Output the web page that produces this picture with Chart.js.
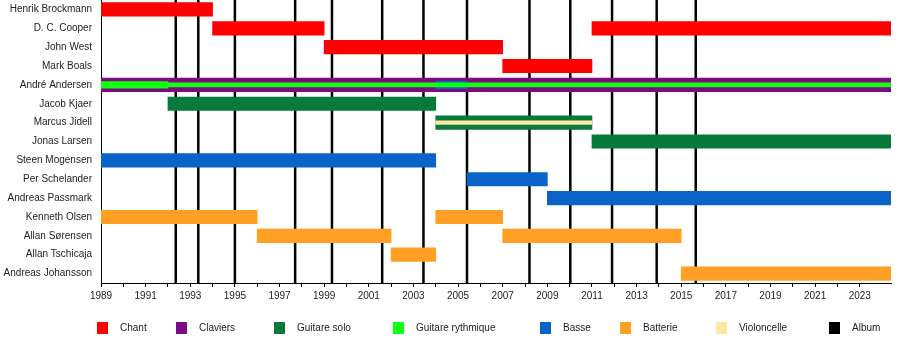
<!DOCTYPE html>
<html>
<head>
<meta charset="utf-8">
<script src="https://cdn.jsdelivr.net/npm/chart.js@4.4.1/dist/chart.umd.min.js"></script>
<style>
  html, body { margin: 0; padding: 0; background: #fff; }
  #wrap { position: relative; width: 900px; height: 340px; }
  #legend { position: absolute; left: 0; top: 322px; width: 900px; height: 14px;
            font: 10px "Liberation Sans", Arial, sans-serif; color: #222; }
  #legend .item { position: absolute; top: 0; white-space: nowrap; }
  #legend .box { position: absolute; top: 0; width: 11px; height: 12px; }
  #legend .txt { position: absolute; top: 0; left: 23px; line-height: 12px; }
</style>
</head>
<body>
<div id="wrap">
  <canvas id="myChart" width="900" height="340"></canvas>
  <div id="legend"></div>
</div>
<script>
const END = 2024.4;

const members = [
  "Henrik Brockmann", "D. C. Cooper", "John West", "Mark Boals", "André Andersen",
  "Jacob Kjaer", "Marcus Jidell", "Jonas Larsen", "Steen Mogensen", "Per Schelander",
  "Andreas Passmark", "Kenneth Olsen", "Allan Sørensen", "Allan Tschicaja", "Andreas Johansson"
];

// [member, from, to]
const chant = [
  ["Henrik Brockmann", 1989, 1994],
  ["D. C. Cooper", 1994, 1999],
  ["John West", 1999, 2007],
  ["Mark Boals", 2007, 2011],
  ["D. C. Cooper", 2011, END]
];
const claviers = [["André Andersen", 1989, END]];
const guitareSolo = [
  ["Jacob Kjaer", 1992, 2004],
  ["Marcus Jidell", 2004, 2011],
  ["Jonas Larsen", 2011, END]
];
const rythmiqueDebut = [["André Andersen", 1989, 1992]];
const rythmique = [["André Andersen", 1992, END]];
const basse = [
  ["Steen Mogensen", 1989, 2004],
  ["Per Schelander", 2005.4, 2009],
  ["Andreas Passmark", 2009, END]
];
const basseAndre = [["André Andersen", 2004, 2005.4]];
const batterie = [
  ["Kenneth Olsen", 1989, 1996],
  ["Kenneth Olsen", 2004, 2007],
  ["Allan Sørensen", 1996, 2002],
  ["Allan Sørensen", 2007, 2015],
  ["Allan Tschicaja", 2002, 2004],
  ["Andreas Johansson", 2015, END]
];
const violoncelle = [["Marcus Jidell", 2004, 2011]];

const albums = [1992.35, 1993.36, 1995.0, 1997.7, 1999.35, 2001.6, 2003.45,
                2005.4, 2008.2, 2010.03, 2011.9, 2013.9, 2015.65];

const colors = {
  chant: "#ff0000",
  claviers: "#7f0a80",
  solo: "#07793a",
  rythmique: "#11ff11",
  basse: "#0a64c8",
  batterie: "#ffa024",
  violoncelle: "#fde8a4",
  album: "#000000"
};

const spans = rows => rows.map(([m, a, b]) => ({ y: m, x: [a, b] }));

const bar = (label, rows, color, thickness, order) => ({
  label: label,
  data: spans(rows),
  backgroundColor: color,
  borderWidth: 0,
  barThickness: thickness,
  grouped: false,
  order: order
});

const datasets = [
  bar("Violoncelle", violoncelle, colors.violoncelle, 3.5, 0),
  bar("Guitare rythmique", rythmique, colors.rythmique, 4, 1),
  bar("Guitare rythmique", rythmiqueDebut, colors.rythmique, 6.5, 1),
  bar("Basse", basseAndre, colors.basse, 7.5, 2),
  bar("Chant", chant, colors.chant, 13.5, 5),
  bar("Claviers", claviers, colors.claviers, 13.5, 5),
  bar("Guitare solo", guitareSolo, colors.solo, 13.5, 5),
  bar("Basse", basse, colors.basse, 13.5, 5),
  bar("Batterie", batterie, colors.batterie, 13.5, 5)
];

// vertical album markers, behind the bars
const albumLines = {
  id: "albumLines",
  beforeDatasetsDraw(chart) {
    const { ctx, chartArea, scales } = chart;
    ctx.save();
    ctx.strokeStyle = colors.album;
    ctx.lineWidth = 2.5;
    albums.forEach(year => {
      const x = scales.x.getPixelForValue(year);
      ctx.beginPath();
      ctx.moveTo(x, 0);
      ctx.lineTo(x, chartArea.bottom);
      ctx.stroke();
    });
    ctx.restore();
  }
};

const font = { family: "'Liberation Sans', Arial, sans-serif", size: 10 };

const ctx = document.getElementById("myChart");
const myChart = new Chart(ctx, {
  type: "bar",
  data: { labels: members, datasets: datasets },
  options: {
    indexAxis: "y",
    responsive: false,
    animation: false,
    layout: { padding: { top: 0, right: 9, bottom: 37, left: 0 } },
    plugins: { legend: { display: false }, tooltip: { enabled: false } },
    scales: {
      x: {
        type: "linear",
        min: 1989,
        max: END,
        border: { color: "#000", width: 1 },
        grid: { drawOnChartArea: false, drawTicks: true, tickLength: 4, color: "#000" },
        ticks: {
          stepSize: 1,
          autoSkip: false,
          maxRotation: 0,
          padding: 3,
          color: "#222",
          font: font,
          callback: v => ((v - 1989) % 2 === 0 ? String(v) : "")
        },
        afterBuildTicks: s => { s.ticks = s.ticks.filter(t => Number.isInteger(t.value)); },
        afterFit: s => { s.height = 20; s.paddingLeft = 0; s.paddingRight = 0; }
      },
      y: {
        border: { color: "#000", width: 1 },
        grid: { display: false, drawTicks: false, tickLength: 0 },
        ticks: { padding: 9, color: "#222", font: font },
        afterFit: s => { s.width = 101; s.paddingTop = 0; s.paddingBottom = 0; }
      }
    }
  },
  plugins: [albumLines]
});

// legend row
const legendItems = [
  ["Chant", colors.chant], ["Claviers", colors.claviers], ["Guitare solo", colors.solo],
  ["Guitare rythmique", colors.rythmique], ["Basse", colors.basse], ["Batterie", colors.batterie],
  ["Violoncelle", colors.violoncelle], ["Album", colors.album]
];
const legendLeft = [97, 176, 274, 393, 540, 620, 716, 829];
const legend = document.getElementById("legend");
legendItems.forEach(([name, color], i) => {
  const item = document.createElement("div");
  item.className = "item";
  item.style.left = legendLeft[i] + "px";
  item.innerHTML = '<span class="box" style="background:' + color + '"></span><span class="txt">' + name + "</span>";
  legend.appendChild(item);
});
</script>
</body>
</html>
